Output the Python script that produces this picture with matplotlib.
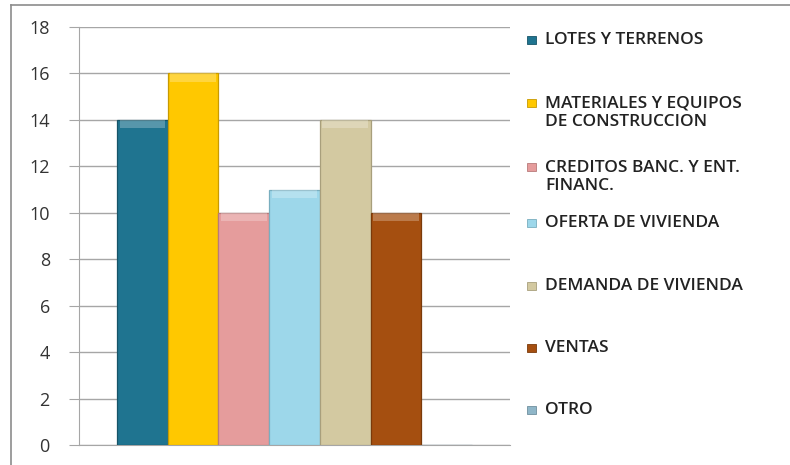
import numpy as np
import matplotlib
matplotlib.use('Agg')
import matplotlib.pyplot as plt
from matplotlib.patches import Rectangle
from matplotlib.lines import Line2D

# data
series = ['LOTES Y TERRENOS', 'MATERIALES Y EQUIPOS\nDE CONSTRUCCION',
          'CREDITOS BANC. Y ENT.\nFINANC.', 'OFERTA DE VIVIENDA',
          'DEMANDA DE VIVIENDA', 'VENTAS', 'OTRO']
values = [14, 16, 10, 11, 14, 10, 0]
colors = ['#1f7490', '#ffc800', '#e59c9c', '#9dd7ea', '#d3c9a1', '#a54f10', '#8fb6c8']
edges = ['#165468', '#c89a00', '#b87a7a', '#79aebf', '#a89f7c', '#7a3a0a', '#6f8f9e']
yticks = [0, 2, 4, 6, 8, 10, 12, 14, 16, 18]

plt.rcParams['font.family'] = ['Open Sans', 'DejaVu Sans']

W, H = 790, 465
fig = plt.figure(figsize=(7.9, 4.65), dpi=100)
ax = fig.add_axes([79 / W, 1 - 445 / H, (510 - 79) / W, (445 - 27) / H])

x = np.arange(len(values))
ax.bar(x, values, width=1.0, color=colors, edgecolor=edges, linewidth=0.9, zorder=3)
# light bevel on top of each bar
for xi, v in zip(x, values):
    if v > 0:
        ax.bar(xi, 0.35, bottom=v - 0.35, width=0.9, color='white', alpha=0.25,
               linewidth=0, zorder=4)

ax.set_xlim(-1.25, 7.25)
ax.set_ylim(0, 18)
ax.set_yticks(yticks)
ax.set_xticks([])
ax.yaxis.grid(True, color='#a6a6a6', linewidth=1.0, zorder=0)
ax.tick_params(axis='y', length=7, color='#a6a6a6', labelsize=13,
               labelcolor='#333333', pad=14)
for s in ['top', 'right']:
    ax.spines[s].set_visible(False)
ax.spines['left'].set_color('#a6a6a6')
ax.spines['bottom'].set_color('#a6a6a6')

# legend drawn by hand
leg_y = [40, 113, 177, 223, 286, 348, 410]
for name, c, e, yy in zip(series, colors, edges, leg_y):
    nlines = name.count('\n') + 1
    top = yy - (nlines - 1) * 10
    fig.add_artist(Rectangle((527 / W, 1 - (top + 4) / H), 9 / W, 8 / H,
                             transform=fig.transFigure, facecolor=c,
                             edgecolor=e, linewidth=0.6))
    fig.text(545 / W, 1 - yy / H, name, fontsize=12.5, fontweight='semibold',
             color='#222222', va='center', ha='left', linespacing=1.2)

# outer border (only left and top visible)
fig.add_artist(Line2D([11 / W, 11 / W], [0, 1 - 5 / H], color='#8c8c8c',
                      linewidth=1.2, transform=fig.transFigure))
fig.add_artist(Line2D([11 / W, 1], [1 - 5 / H, 1 - 5 / H], color='#8c8c8c',
                      linewidth=1.2, transform=fig.transFigure))

fig.savefig('out.png', dpi=100)
